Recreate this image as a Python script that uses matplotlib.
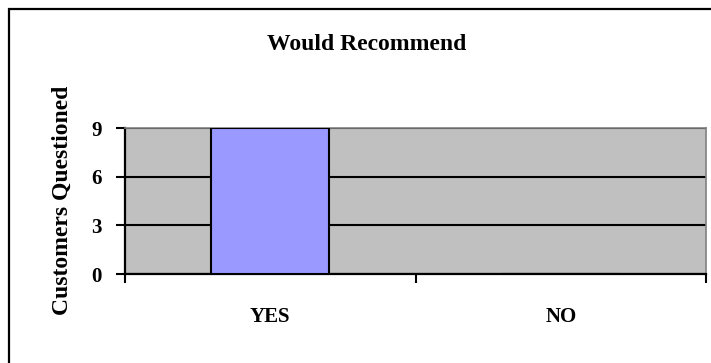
import matplotlib.pyplot as plt
from matplotlib.patches import Rectangle

categories = ["YES", "NO"]
counts = [9, 0]
yticks = [0, 3, 6, 9]

plt.rcParams['font.family'] = ['Liberation Serif', 'DejaVu Serif']
plt.rcParams['font.weight'] = 'bold'

fig = plt.figure(figsize=(7.11, 3.63), dpi=100)
# outer chart border (only left/top visible in the original)
fig.patches.append(Rectangle((9 / 711, -0.05), 2, 1 - 9 / 363 + 0.05, transform=fig.transFigure,
                             fill=False, edgecolor='black', linewidth=1.6))

ax = fig.add_axes([125 / 711, 1 - 274 / 363, (706 - 125) / 711, (274 - 128) / 363])
ax.set_facecolor('#C0C0C0')
x = range(len(categories))
ax.bar(x, counts, width=0.405, color='#9999FF', edgecolor='black', linewidth=1.5, zorder=3)
ax.set_xlim(-0.5, 1.5)
ax.set_ylim(0, 9)
ax.set_yticks(yticks)
ax.yaxis.grid(True, color='black', linewidth=1.5, zorder=1)
ax.set_axisbelow(True)

# category separators as ticks
ax.set_xticks([-0.5, 0.5, 1.5])
ax.set_xticklabels([])
ax.set_xticks(list(x), minor=True)
ax.set_xticklabels(categories, minor=True, fontsize=15, fontweight='bold')
ax.tick_params(axis='x', which='major', direction='out', length=6.5, width=1.5)
ax.tick_params(axis='x', which='minor', length=0, pad=24)
ax.tick_params(axis='y', direction='out', length=6.5, width=1.5, labelsize=15, pad=10)

for s in ['left', 'bottom']:
    ax.spines[s].set_color('black')
    ax.spines[s].set_linewidth(1.6)
for s in ['top', 'right']:
    ax.spines[s].set_color('#808080')
    ax.spines[s].set_linewidth(1.2)

fig.text(367 / 711, 1 - 44 / 363, "Would Recommend", ha='center', va='center',
         fontsize=17, fontweight='bold')
fig.text(62 / 711, 1 - 200 / 363, "Customers Questioned", ha='center', va='center',
         rotation=90, fontsize=17, fontweight='bold')

fig.savefig("out.png", dpi=100)
